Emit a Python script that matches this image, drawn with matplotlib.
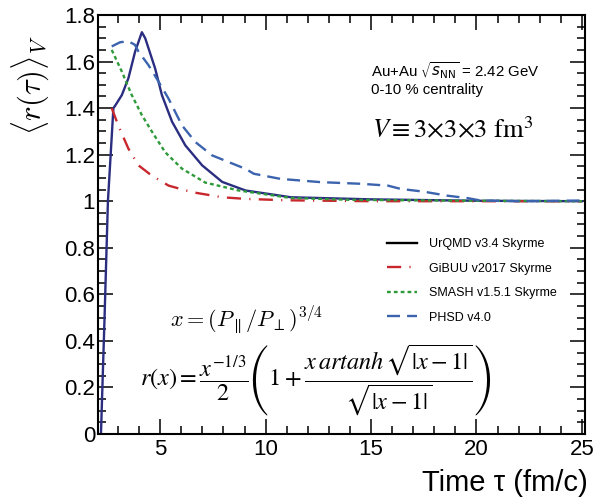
import numpy as np
import matplotlib
matplotlib.use("Agg")
import matplotlib.pyplot as plt
from matplotlib.ticker import MultipleLocator

plt.rcParams['font.family'] = ['Liberation Sans', 'DejaVu Sans']
plt.rcParams['mathtext.fontset'] = 'stix'

# curves: time tau (fm/c) and <r(tau)>_V
urqmd_t = [2.19, 2.36, 2.52, 2.78, 2.86, 3.18, 3.49, 3.81, 4.13, 4.29, 4.76, 5.08,
           5.56, 6.19, 6.99, 7.94, 9.05, 11.2, 15.0, 20.0, 25.0]
urqmd_r = [0.0, 0.5, 1.0, 1.40, 1.41, 1.456, 1.528, 1.643, 1.726, 1.70, 1.57, 1.456,
           1.342, 1.24, 1.154, 1.083, 1.046, 1.017, 1.008, 1.002, 1.0]

gibuu_t = [2.70, 3.01, 3.49, 3.97, 4.60, 5.40, 6.51, 7.94, 9.05, 11.0, 15.0, 25.0]
gibuu_r = [1.40, 1.326, 1.226, 1.154, 1.11, 1.067, 1.039, 1.017, 1.01, 1.004, 1.0, 1.0]

smash_t = [2.70, 3.18, 3.65, 4.13, 4.60, 5.24, 6.03, 7.14, 8.73, 11.2, 14.0, 20.0, 25.0]
smash_r = [1.65, 1.557, 1.456, 1.37, 1.30, 1.21, 1.14, 1.08, 1.046, 1.014, 1.006, 1.002, 1.0]

phsd_t = [2.70, 3.10, 3.49, 3.80, 3.97, 4.44, 4.92, 5.40, 6.03, 6.67, 7.46, 8.25, 9.05,
          9.44, 10.7, 12.6, 14.5, 15.8, 16.4, 17.5, 18.6, 19.6, 20.2, 22.0, 25.0]
phsd_r = [1.665, 1.683, 1.687, 1.672, 1.643, 1.585, 1.514, 1.44, 1.326, 1.254, 1.197,
          1.168, 1.139, 1.118, 1.096, 1.082, 1.075, 1.067, 1.053, 1.041, 1.024, 1.013,
          1.003, 1.0, 1.003]

labels = ['UrQMD v3.4 Skyrme', 'GiBUU v2017 Skyrme', 'SMASH v1.5.1 Skyrme', 'PHSD v4.0']

fig = plt.figure(figsize=(5.94, 5.0), dpi=100)
ax = fig.add_axes([0.165, 0.132, 0.82, 0.838])

ax.plot(urqmd_t, urqmd_r, color='#2a2d80', lw=1.7, label=labels[0])
ax.plot(gibuu_t, gibuu_r, color='#c8282d', lw=1.7, ls=(0, (6, 3.5, 0.5, 3.5)), label=labels[1])
ax.plot(smash_t, smash_r, color='#2e9a3a', lw=1.7, ls=(0, (1.6, 1.3)), label=labels[2])
ax.plot(phsd_t, phsd_r, color='#3b63ae', lw=1.7, ls=(0, (5.5, 3)), label=labels[3])

ax.set_xlim(2.05, 25.15)
ax.set_ylim(0, 1.8)
ax.xaxis.set_major_locator(MultipleLocator(5))
ax.xaxis.set_minor_locator(MultipleLocator(1))
ax.yaxis.set_minor_locator(MultipleLocator(0.05))
ax.set_yticks([0, 0.2, 0.4, 0.6, 0.8, 1.0, 1.2, 1.4, 1.6, 1.8])
ax.set_yticklabels(['0', '0.2', '0.4', '0.6', '0.8', '1', '1.2', '1.4', '1.6', '1.8'])
ax.tick_params(which='both', direction='in', top=True, right=True, labelsize=16, width=1.1)
ax.tick_params(which='major', length=11)
ax.tick_params(which='minor', length=6)
ax.tick_params(axis='y', pad=2)
for s in ax.spines.values():
    s.set_linewidth(1.5)

leg = ax.legend(loc='center left', bbox_to_anchor=(0.58, 0.365), frameon=False,
                fontsize=9, handlelength=2.4, handletextpad=1.0, labelspacing=1.0,
                borderpad=0)
leg.legend_handles[0].set_color('black')

fig.text(0.05, 0.83, r'$\langle r(\tau)\rangle_V$', rotation=90, fontsize=22,
         ha='center', va='center', math_fontfamily='cm')
fig.text(0.99, 0.034, 'Time τ (fm/c)', fontsize=21, ha='right', va='center')

ax.text(15.0, 1.562, r'Au+Au $\sqrt{s_{\mathrm{NN}}}$ = 2.42 GeV', fontsize=10.8,
        va='center', math_fontfamily='dejavusans')
ax.text(15.0, 1.476, '0-10 % centrality', fontsize=10.8, va='center')
ax.text(15.05, 1.303, r'$V \equiv 3{\times}3{\times}3\ \mathrm{fm}^3$', fontsize=19, va='center')

ax.text(5.48, 0.49, r'$x = (P_{\parallel}/P_{\perp})^{3/4}$', fontsize=16, va='center',
        math_fontfamily='cm')
ax.text(4.05, 0.233,
        r'$r(x) = \dfrac{x^{-1/3}}{2}\left(1 + \dfrac{x\,artanh\,\sqrt{|x-1|}}{\sqrt{|x-1|}}\right)$',
        fontsize=17.5, va='center')

fig.savefig('out.png', dpi=100)
